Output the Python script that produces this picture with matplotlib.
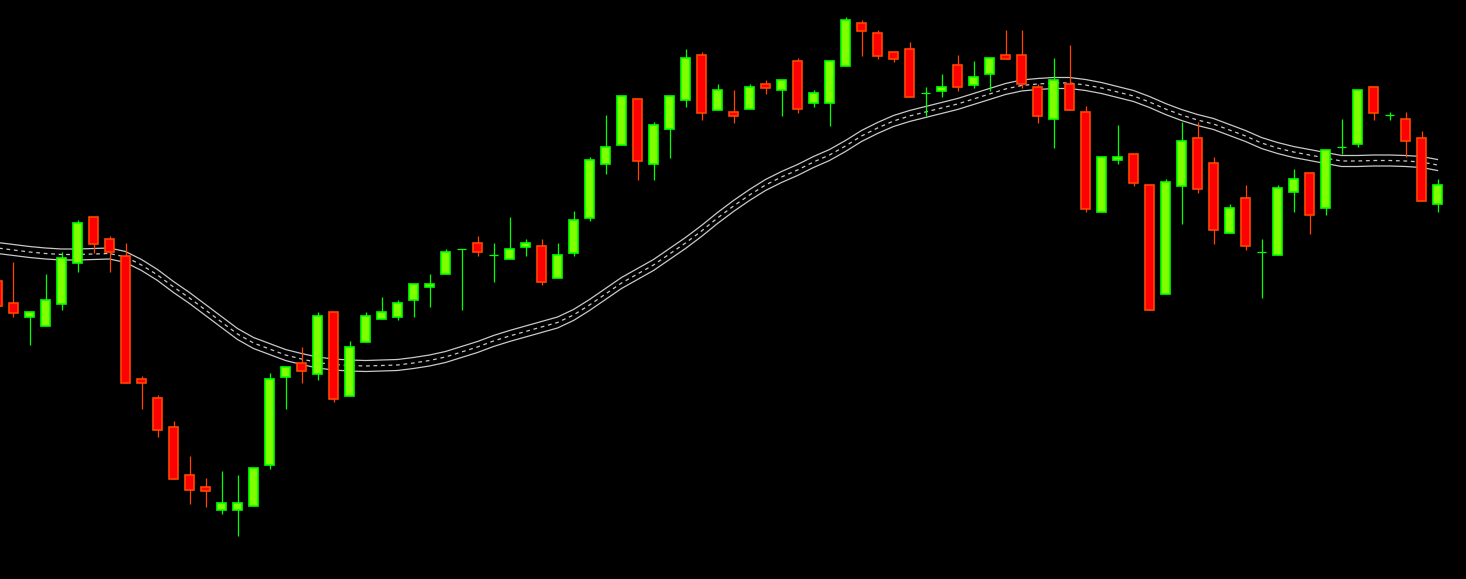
import numpy as np
import matplotlib
matplotlib.use("Agg")
from matplotlib import pyplot as plt

# candle data (arbitrary price scale)
opens = [319, 296.7, 283.3, 274.3, 296.3, 337.3, 382.7, 360.7, 344.3, 220.7,
         201.7, 172.7, 124.7, 112.7, 89.7, 89.7, 93.7, 134.7, 223.3, 236.7,
         226.3, 287.7, 204.3, 258.3, 280.7, 283.3, 299.7, 312.7, 325.7, 350.7,
         356.7, 344.7, 341.3, 353.3, 353.7, 322.3, 347.3, 382.3, 436.3, 455.3,
         500.7, 436.3, 471.3, 500.3, 544.7, 490.3, 487.7, 490.7, 515.7, 509.7,
         538.7, 496.7, 496.7, 534.3, 576.7, 566.7, 547.7, 550.7, 506.7, 509.3,
         534.7, 515.3, 525.7, 544.7, 544.7, 512.7, 480.7, 515.7, 487.7, 388.3,
         439.7, 445.7, 414.7, 306.3, 414.3, 461.7, 436.7, 366.7, 401.7, 347.7,
         344.7, 407.7, 426.7, 391.7, 452.7, 455.7, 512.7, 484.7, 480.7, 461.7,
         395.7]
highs = [319, 338, 287.7, 326, 348, 380, 382.7, 364, 357, 224,
         205, 179, 144, 122, 129, 125, 131.7, 227, 232.7, 253,
         288, 287.7, 259, 288, 303, 300, 315.7, 326, 351, 350.7,
         364, 357, 383, 361, 361, 357, 389, 443, 485, 503.7,
         500.7, 478, 503.7, 551, 548, 516, 510, 516, 520, 519.7,
         542, 510, 538.7, 583, 580, 570, 547.7, 558, 513, 526,
         545, 539, 541.7, 570, 570, 516, 542, 555, 494, 442.7,
         475, 445.7, 414.7, 421, 478, 478, 443, 396, 415, 361,
         415, 431, 426.7, 449.7, 480.7, 509.7, 512.7, 487.7, 487.7, 468.7,
         420.7]
lows = [293.7, 283.3, 255, 274.3, 290, 328.3, 347, 328.3, 217.3, 191,
        163, 121.3, 96.3, 93.3, 86.3, 64.3, 93.7, 131.3, 191, 217.3,
        220, 198, 204.3, 258.3, 280.7, 280.3, 283.3, 293.3, 325.7, 290.3,
        344.3, 318.3, 341.3, 344, 315, 322.3, 344, 379, 426, 455.3,
        420, 420, 442, 493, 480, 490.3, 477.3, 490.7, 506.3, 484,
        487.3, 493.3, 474, 534.3, 544.3, 541.3, 538.3, 503.3, 484, 503.3,
        509.3, 512, 509, 541.3, 512.3, 477.3, 452.3, 490.3, 388.3, 388.3,
        436.3, 414.3, 290.3, 306.3, 376, 407.3, 356.3, 366.7, 350.3, 302.3,
        344.7, 388.3, 366.3, 385.3, 445.7, 452.7, 480.3, 480.3, 442.7, 398.7,
        388.3]
closes = [293.7, 287.3, 287.7, 299.7, 341.7, 376.7, 356.3, 347.7, 217.3, 217.3,
          169.7, 121.3, 109.7, 109.3, 96.7, 96.7, 131.7, 220.7, 232.7, 229.3,
          283.7, 201.3, 252.7, 283.7, 287.7, 296.7, 315.7, 315.7, 347.7, 350.7,
          347.7, 344.7, 350.7, 356.7, 318.3, 344.7, 379.7, 439.7, 452.7, 503.7,
          439.3, 474.7, 503.7, 541.7, 487.3, 509.7, 484.3, 512.7, 512.3, 519.7,
          490.7, 506.7, 538.7, 579.7, 569.3, 544.3, 541.3, 503.3, 506.7, 512.7,
          512.7, 522.7, 541.7, 541.3, 515.7, 484.3, 519.7, 490.3, 391.3, 442.7,
          442.7, 417.3, 290.3, 417.7, 458.7, 411.3, 369.7, 391.7, 353.7, 347.7,
          411.7, 420.7, 385.3, 449.7, 452.7, 509.7, 487.3, 484.7, 458.7, 398.7,
          414.7]

# moving average (middle of the band)
ma = [352, 350, 348, 346.5, 345.5, 345.5, 346, 346.5, 343, 335,
      325, 313, 302, 290, 278, 266, 257, 251, 245, 241,
      237.5, 235.5, 234.5, 234, 234.5, 235, 237, 239.5, 243, 248,
      253, 259, 264, 268.5, 273, 277.5, 285, 295, 306, 317,
      326, 335, 346, 357, 369, 382, 394, 405, 415, 423,
      430, 438, 445, 454, 464, 472, 479, 484, 488, 492,
      496, 501, 506, 511, 514.5, 516, 517, 517, 515, 512,
      508, 504, 498, 491, 485, 480, 476, 470, 464, 457,
      452, 448, 445, 442, 439, 439, 439.5, 439.5, 439, 438,
      435]
band = 5.5

n = len(opens)
x = np.arange(n) - 1

fig = plt.figure(figsize=(14.66, 5.79), dpi=100, facecolor="black")
ax = fig.add_axes([0, 0, 1, 1], facecolor="black")

g_fill, g_edge = "#7FFF00", "#00FF00"
r_fill, r_edge = "#FF0000", "#FF4500"
w = 0.6

for i in range(n):
    o, h, l, c = opens[i], highs[i], lows[i], closes[i]
    up = c >= o
    edge = g_edge if up else r_edge
    fill = g_fill if up else r_fill
    ax.vlines(x[i], l, h, color=edge, linewidth=0.9, zorder=2)
    if abs(c - o) < 1:
        ax.hlines(o, x[i] - w / 2, x[i] + w / 2, color=edge, linewidth=0.9, zorder=3)
    else:
        ax.bar(x[i], abs(c - o), bottom=min(o, c), width=w, color=fill,
               edgecolor=edge, linewidth=1.2, zorder=3)

ma = np.array(ma)
ax.plot(x, ma + band, color="#c8c8c8", linewidth=0.9, zorder=1)
ax.plot(x, ma - band, color="#c8c8c8", linewidth=0.9, zorder=1)
ax.plot(x, ma, color="#c8c8c8", linewidth=0.9, dashes=(3, 3), zorder=1)

ax.set_xlim(-13.5 / 16, (1466 - 13.5) / 16)
ax.set_ylim(21, 600)
ax.axis("off")

fig.savefig("out.png", dpi=100, facecolor="black")
